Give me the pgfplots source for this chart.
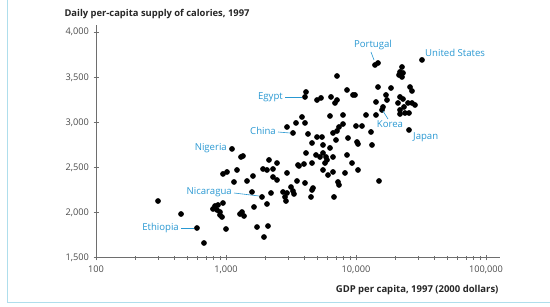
\documentclass[border=0pt]{standalone}
\usepackage{pgfplots}
\pgfplotsset{compat=1.18}
\usepackage{fontspec}
\setmainfont{Open Sans}
\definecolor{lab}{RGB}{41,152,210}
\definecolor{axg}{RGB}{110,110,110}
\definecolor{framec}{RGB}{175,222,236}
\definecolor{tickc}{RGB}{75,75,75}
\pgfplotstableread{
x y
300 2129
451 1985
598 1830
677 1664
1000 1819
948 2429
1018 2451
1215 2473
1304 2617
1351 2628
1112 2706
1152 2340
1451 2351
1613 2406
1585 2229
1892 2174
2219 2218
2067 2096
1642 2063
1328 2007
1376 1963
1281 1985
794 2041
823 2074
853 2030
899 2007
948 2107
899 1974
932 1952
868 2085
1732 1841
1960 1730
2104 1852
2142 2584
1926 2484
2067 2473
2468 2550
2299 2484
2946 2440
3580 2528
2299 2395
2468 2362
3162 2284
2745 2229
2946 2218
3276 2240
2843 2174
2894 2129
3335 2207
4125 2661
4924 2639
5285 2617
5574 2661
5983 2584
5775 2550
8527 2639
3644 2517
3981 2539
4588 2550
5574 2473
6090 2417
6654 2451
9317 2550
8231 2440
10361 2473
3517 2351
4052 2329
4670 2273
4588 2251
7270 2340
7400 2307
4507 2174
6773 2174
15030 2351
4125 3337
4052 3282
5012 3248
5380 3271
6422 3282
6894 3215
7143 3248
8527 3359
9484 3304
7143 3514
6309 3071
7944 3082
3843 3060
3455 2994
4052 2994
2946 2949
3276 2883
7400 2949
7944 2982
7143 2905
6654 2883
10000 2960
11120 2960
4274 2872
5012 2838
5476 2838
7017 2805
8679 2827
4588 2772
5574 2750
6309 2717
10179 2783
10361 2761
5878 2617
6654 2617
14000 3636
14766 3658
32190 3692
22587 3614
21800 3559
21420 3525
22587 3503
22990 3548
26030 3392
26960 3348
14766 3392
18589 3381
9824 3304
14251 3226
17012 3304
17317 3248
21800 3282
22990 3259
21040 3215
25120 3215
26960 3215
28430 3193
21800 3138
23400 3171
15850 3138
16133 3171
21800 3093
23819 3104
25570 3104
11938 3082
14251 3082
25570 2916
13043 2894
13277 2750
}\calories
\begin{document}
\begin{tikzpicture}[x=1pt,y=1pt]
\path[use as bounding box] (0,0) rectangle (550,307);
\draw[framec, line width=1pt] (7,307) -- (7,4) -- (550,4);
\begin{axis}[
  at={(96pt,49.2pt)}, anchor=south west,
  scale only axis, width=404pt, height=232.8pt,
  xmode=log, log basis x=10,
  xmin=100, xmax=128150, ymin=1500, ymax=4079,
  axis x line*=bottom, axis y line*=left,
  axis line style={axg, line width=0.9pt, -},
  xtick={100,1000,10000,100000},
  xticklabels={100,{1,000},{10,000},{100,000}},
  minor xtick={200,300,400,500,600,700,800,900,2000,3000,4000,5000,6000,7000,8000,9000,20000,30000,40000,50000,60000,70000,80000,90000},
  ytick={1500,2000,2500,3000,3500,4000},
  yticklabels={{1,500},{2,000},{2,500},{3,000},{3,500},{4,000}},
  tick align=center, major tick length=5pt, minor tick length=3.5pt,
  every tick/.style={axg, line width=0.7pt},
  tick label style={font=\fontsize{9.2}{10}\selectfont, text=tickc},
  xticklabel style={yshift=-2pt},
  yticklabel style={xshift=-1pt},
  clip=false,
]
\addplot[only marks, mark=*, mark size=2.6pt, black] table {\calories};
\end{axis}
\node[anchor=west, font=\fontsize{9.4}{11}\selectfont\bfseries, text=black!85] at (61,293) {Daily per-capita supply of calories, 1997};
\node[anchor=east, font=\fontsize{9.5}{11}\selectfont\bfseries, text=black!85] at (502,17) {GDP per capita, 1997 (2000 dollars)};
\begin{scope}[every node/.style={font=\fontsize{9.6}{11}\selectfont, text=lab, inner sep=1pt}]
\node[anchor=south] at (373,256) {Portugal};
\draw[lab, line width=0.6pt] (371,255) -- (374,247);
\node[anchor=west] at (424,254) {United States};
\node[anchor=east] at (284,210) {Egypt};
\draw[lab, line width=0.6pt] (285,210) -- (302,210);
\node[anchor=east] at (277,176) {China};
\draw[lab, line width=0.6pt] (278,175) -- (290,174);
\node[anchor=east] at (228,159) {Nigeria};
\node[anchor=east] at (233,115) {Nicaragua};
\draw[lab, line width=0.6pt] (234,114) -- (259,111);
\node[anchor=east] at (180,79) {Ethiopia};
\draw[lab, line width=0.6pt] (181,79) -- (194,79);
\node[anchor=north] at (390,188) {Korea};
\draw[lab, line width=0.6pt] (388,188) -- (383,196);
\node[anchor=west] at (412,170) {Japan};
\end{scope}
\end{tikzpicture}
\end{document}
